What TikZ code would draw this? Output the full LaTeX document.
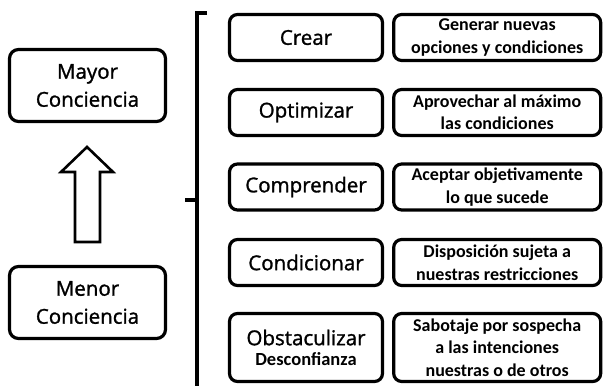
\documentclass[tikz,border=0pt]{standalone}
\usepackage{fontspec}
\setmainfont{Open Sans}[FakeBold=1.3]
\newfontfamily\descfont{Carlito}
\usetikzlibrary{positioning}

\begin{document}
\begin{tikzpicture}[x=1pt,y=-1pt,
    level/.style={draw,line width=3.2pt,rounded corners=9pt,minimum width=156pt,minimum height=72pt,
      align=center,font=\fontsize{20.5}{28}\selectfont},
    act/.style={draw,line width=3.2pt,rounded corners=8pt,minimum width=153pt,minimum height=46pt,
      align=center,font=\fontsize{20.5}{24}\selectfont},
    desc/.style={draw,line width=3.2pt,rounded corners=8pt,minimum width=207pt,minimum height=46pt,
      align=center,font=\descfont\bfseries\fontsize{18}{22.5}\selectfont}]
    \useasboundingbox (0,0) rectangle (604,385);
    % niveles de conciencia
    \node[level] (mayor) at (87.5,85.5) {Mayor\\Conciencia};
    \node[level] (menor) at (87.5,302.5) {Menor\\Conciencia};
    % flecha hueca
    \draw[line width=2.6pt,line join=miter] (75,242) -- (75,172) -- (61,172) -- (87,147)
      -- (113,172) -- (100,172) -- (100,242) -- cycle;
    % llave
    \draw[line width=3.2pt] (207,13) -- (197,13) -- (197,386);
    \draw[line width=3.2pt] (197,200) -- (185,200);
    % acciones
    \node[act] (crear) at (306,37.5) {Crear};
    \node[act] (optimizar) at (306,112.5) {Optimizar};
    \node[act] (comprender) at (306,187) {Comprender};
    \node[act] (condicionar) at (306,262.5) {Condicionar};
    \node[act,minimum height=68pt] (obstaculizar) at (306,347.5)
      {Obstaculizar\\[-4pt]{\descfont\bfseries\fontsize{18.5}{20}\selectfont Desconfianza}};
    % descripciones
    \node[desc,right=8pt of crear] (crearD) {Generar nuevas\\opciones y condiciones};
    \node[desc,right=8pt of optimizar] (optimizarD) {Aprovechar al máximo\\las condiciones};
    \node[desc,right=8pt of comprender] (comprenderD) {Aceptar objetivamente\\lo que sucede};
    \node[desc,right=8pt of condicionar] (condicionarD) {Disposición sujeta a\\nuestras restricciones};
    \node[desc,minimum height=68pt,right=8pt of obstaculizar] (obstaculizarD)
      {Sabotaje por sospecha\\a las intenciones\\nuestras o de otros};
\end{tikzpicture}
\end{document}
